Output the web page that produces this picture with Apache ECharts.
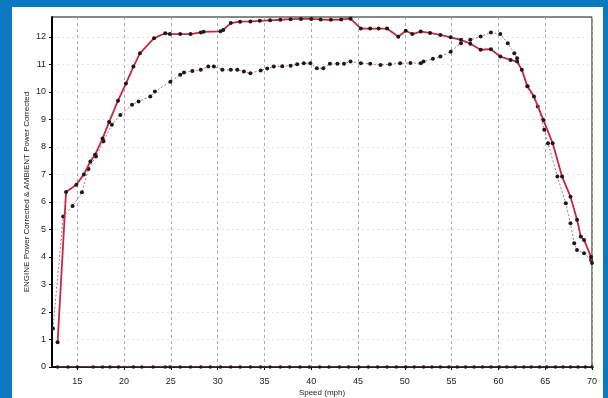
<!DOCTYPE html>
<html><head><meta charset="utf-8">
<script src="https://cdn.jsdelivr.net/npm/echarts@6/dist/echarts.min.js"></script>
<style>html,body{margin:0;padding:0;background:#0b78c2;}#c{width:608px;height:398px;}</style>
</head><body><div id="c"></div>
<script>
const xTicks = [15,20,25,30,35,40,45,50,55,60,65,70];
const yTicks = [0,1,2,3,4,5,6,7,8,9,10,11,12];
const engineSpeed = [12.9,13.8,14.9,15.7,16.4,16.9,17.7,18.4,19.35,20.2,21.0,21.7,23.2,24.4,24.9,26.0,27.1,28.2,28.5,30.3,30.6,31.4,32.4,33.5,34.5,35.6,36.7,37.8,38.9,40.0,41.0,42.1,43.2,44.2,45.3,46.3,47.2,48.1,49.3,50.1,50.8,51.7,52.7,53.8,54.9,56.0,57.0,58.1,59.2,60.2,61.3,62.0,62.5,63.1,63.8,64.8,65.8,66.8,67.7,68.4,68.8,69.15,69.9,70];
const enginePower = [0.9,6.36,6.62,7.0,7.47,7.71,8.3,8.9,9.68,10.3,10.92,11.4,11.95,12.13,12.1,12.1,12.1,12.16,12.18,12.2,12.25,12.5,12.55,12.56,12.58,12.6,12.62,12.64,12.65,12.65,12.63,12.62,12.63,12.66,12.3,12.3,12.3,12.3,12.0,12.22,12.1,12.19,12.14,12.07,11.98,11.89,11.75,11.53,11.55,11.28,11.16,11.1,10.8,10.2,9.83,8.98,8.13,6.92,6.19,5.35,4.74,4.62,4.0,3.78];
const ambientSpeed = [12.4,13.5,14.5,15.5,16.2,17.0,17.8,18.7,19.6,20.85,21.55,22.8,23.3,24.95,26.0,26.4,27.3,28.2,29.0,29.6,30.5,31.4,32.1,32.8,33.5,34.6,35.3,36.0,36.9,37.8,38.5,39.2,39.9,40.6,41.3,42.0,42.8,43.5,44.2,45.3,46.3,47.4,48.4,49.5,50.6,51.7,52.0,53.0,53.8,54.9,56.0,57.0,58.1,59.2,60.2,61.0,61.7,62.0,63.1,64.2,64.9,65.3,66.3,67.2,67.7,68.1,68.4,69.15,69.9];
const ambientPower = [1.4,5.47,5.85,6.35,7.2,7.65,8.2,8.8,9.16,9.53,9.65,9.83,10.01,10.37,10.62,10.7,10.76,10.8,10.92,10.92,10.8,10.8,10.8,10.74,10.68,10.78,10.85,10.92,10.93,10.95,11.0,11.04,11.04,10.86,10.86,11.02,11.02,11.02,11.1,11.04,11.02,10.98,11.0,11.04,11.05,11.04,11.1,11.2,11.28,11.46,11.77,11.89,12.01,12.16,12.1,11.77,11.4,11.22,10.2,9.47,8.62,8.13,6.92,5.95,5.22,4.5,4.25,4.13,3.89];
const baseSpeed = [12.9,14,15,16.7,17.7,18.5,19.4,21,21.9,23.1,24.4,24.9,26,27.1,28.2,29.2,30.3,31.4,32.4,33.5,34.6,35.6,36.7,37.7,38.8,39.8,40.9,41.9,43,44,45.1,46.1,47.1,48.1,49.1,50.1,51,52,52.9,53.8,54.7,55.6,56.5,57.4,58.3,59.2,60.1,60.9,61.8,62.7,63.5,64.4,65.2,66.1,66.9,67.7,68.5,69.3,70];
const basePower = [0,0,0,0,0,0,0,0,0,0,0,0,0,0,0,0,0,0,0,0,0,0,0,0,0,0,0,0,0,0,0,0,0,0,0,0,0,0,0,0,0,0,0,0,0,0,0,0,0,0,0,0,0,0,0,0,0,0,0];
const xTitle = 'Speed (mph)';
const yTitle = 'ENGINE Power Corrected & AMBIENT Power Corrected';

const pair = (xs, ys) => xs.map((x, i) => [x, ys[i]]);
const chart = echarts.init(document.getElementById('c'), null, {renderer: 'canvas'});
chart.setOption({
  animation: false,
  backgroundColor: '#0b78c2',
  graphic: [{type: 'rect', left: 12, top: 7, shape: {width: 591, height: 400}, style: {fill: '#ffffff'}, z: -10}],
  grid: {left: 52, right: 16, top: 17, bottom: 31, show: true, borderColor: '#111', borderWidth: 1, backgroundColor: 'transparent', containLabel: false, outerBoundsMode: 'none'},
  xAxis: {
    type: 'value', min: 12.3, max: 70,
    name: xTitle, nameLocation: 'middle', nameGap: 22, nameMoveOverlap: false,
    nameTextStyle: {fontSize: 8, color: '#222', fontFamily: 'Liberation Sans'},
    axisLine: {show: true, lineStyle: {color: '#000', width: 2}},
    axisTick: {show: true, length: 3, customValues: xTicks, lineStyle: {color: '#000'}},
    axisLabel: {customValues: xTicks, fontSize: 9, color: '#222', margin: 10, fontFamily: 'Liberation Sans'},
    splitLine: {show: true, lineStyle: {color: '#aaa', type: [3, 3], width: 1}}
  },
  yAxis: {
    type: 'value', min: 0, max: 12.72,
    name: yTitle, nameLocation: 'middle', nameGap: 21, nameMoveOverlap: false,
    nameTextStyle: {fontSize: 8, color: '#222', fontFamily: 'Liberation Sans'},
    axisLine: {show: true, lineStyle: {color: '#000', width: 2}},
    axisTick: {show: true, length: 3, customValues: yTicks, lineStyle: {color: '#000'}},
    axisLabel: {customValues: yTicks, fontSize: 9, color: '#222', margin: 6, fontFamily: 'Liberation Sans'},
    splitLine: {show: true, lineStyle: {color: '#e4e4e4', type: [2, 3], width: 1}}
  },
  series: [
    {
      name: 'ENGINE Power Corrected', type: 'line', data: pair(engineSpeed, enginePower),
      symbol: 'circle', symbolSize: 4, itemStyle: {color: '#1a1a1a'},
      lineStyle: {color: '#c8283f', width: 1.8}, z: 3
    },
    {
      name: 'AMBIENT Power Corrected', type: 'line', data: pair(ambientSpeed, ambientPower),
      symbol: 'circle', symbolSize: 4, itemStyle: {color: '#1a1a1a'},
      lineStyle: {color: '#b07080', width: 1, type: [2, 2]}, z: 2
    },
    {
      name: 'Base', type: 'line', data: pair(baseSpeed, basePower),
      symbol: 'circle', symbolSize: 3.5, itemStyle: {color: '#1a1a1a'},
      lineStyle: {color: '#b07080', width: 1}, z: 2
    }
  ]
});
</script></body></html>
